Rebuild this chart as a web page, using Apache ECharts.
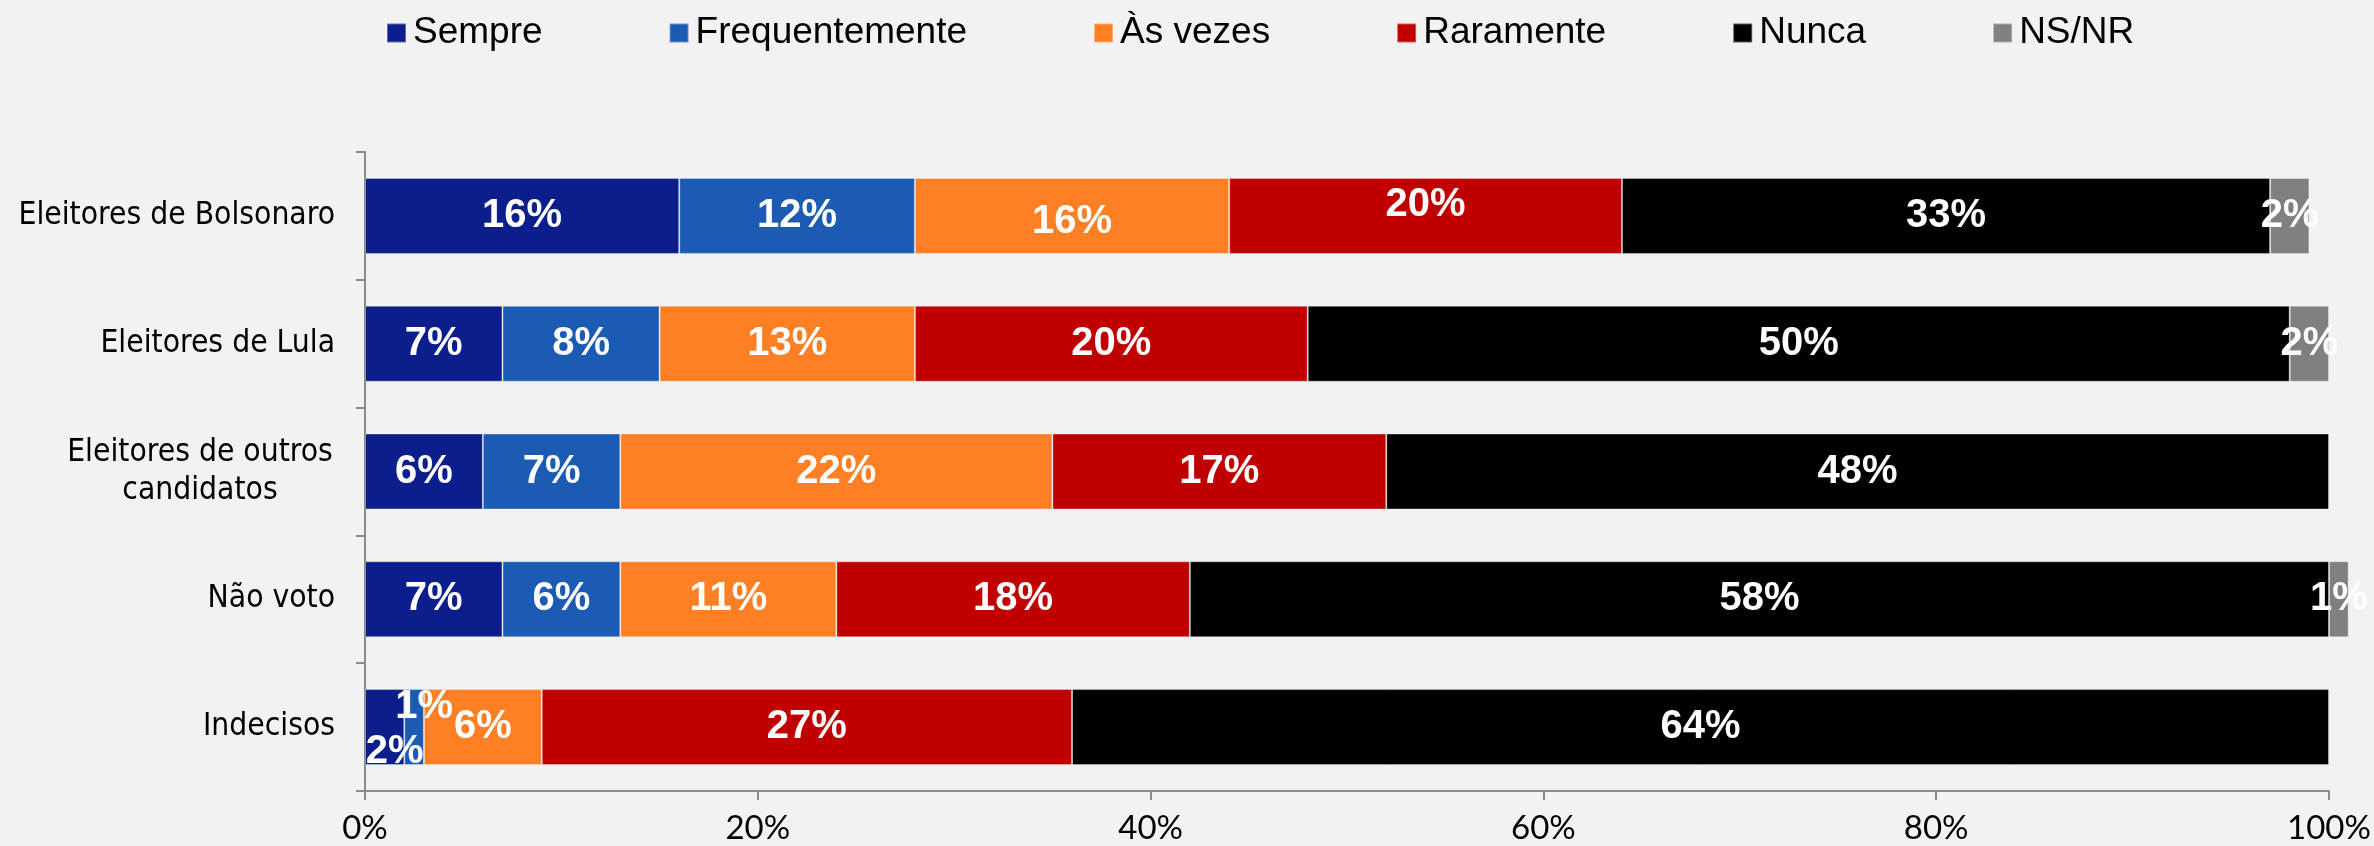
<!DOCTYPE html>
<html>
<head>
<meta charset="utf-8">
<script src="https://cdn.jsdelivr.net/npm/echarts@6/dist/echarts.min.js"></script>
<style>
  html, body { margin: 0; padding: 0; background: #f2f2f2; }
  #chart { width: 2374px; height: 846px; }
</style>
</head>
<body>
<div id="chart"></div>
<script>
// Voter groups, top to bottom
const categories = [
  'Eleitores de Bolsonaro',
  'Eleitores de Lula',
  'Eleitores de outros\ncandidatos',
  'Não voto',
  'Indecisos'
];

// Answer shares (%) per group
const sempre         = [16, 7, 6, 7, 2];
const frequentemente = [12, 8, 7, 6, 1];
const asVezes        = [16, 13, 22, 11, 6];
const raramente      = [20, 20, 17, 18, 27];
const nunca          = [33, 50, 48, 58, 64];
const nsnr           = [2, 2, null, 1, null];

const xTicks = [0, 20, 40, 60, 80, 100];

const seriesDefs = [
  { name: 'Sempre',         values: sempre,         color: '#0b1e8c' },
  { name: 'Frequentemente', values: frequentemente, color: '#1c5bb4' },
  { name: 'Às vezes',       values: asVezes,        color: '#fe7f24' },
  { name: 'Raramente',      values: raramente,      color: '#c00000' },
  { name: 'Nunca',          values: nunca,          color: '#000000' },
  { name: 'NS/NR',          values: nsnr,           color: '#808080' }
];

// Hand-placed label nudges [dx, dy] by series name and row index
const labelNudge = {
  'Às vezes':       { 0: [0, 6] },
  'Raramente':      { 0: [0, -11] },
  'Sempre':         { 4: [10, 25] },
  'Frequentemente': { 4: [10, -20] }
};

const series = seriesDefs.map(function (s) {
  return {
    name: s.name,
    type: 'bar',
    stack: 'total',
    barWidth: 76,
    clip: false,
    itemStyle: { color: s.color, borderColor: 'rgba(255,255,255,0.35)', borderWidth: 1 },
    label: {
      show: true,
      position: 'inside',
      color: '#ffffff',
      fontFamily: 'Liberation Sans, Arial, sans-serif',
      fontWeight: 'bold',
      fontSize: 40,
      formatter: function (p) { return p.value == null ? '' : p.value + '%'; }
    },
    data: s.values.map(function (v, i) {
      const nudge = labelNudge[s.name] && labelNudge[s.name][i];
      if (nudge) {
        return { value: v, label: { offset: nudge } };
      }
      return v;
    })
  };
});

const chart = echarts.init(document.getElementById('chart'));
chart.setOption({
  backgroundColor: '#f2f2f2',
  animation: false,
  legend: {
    left: 381,
    top: 9,
    itemWidth: 19,
    itemHeight: 19,
    itemGap: 126,
    icon: 'rect',
    data: seriesDefs.map(function (s) { return s.name; }),
    textStyle: {
      fontFamily: 'Liberation Sans, Arial, sans-serif',
      fontSize: 37,
      lineHeight: 38,
      color: '#000000',
      padding: [0, 0, 0, 2]
    }
  },
  grid: { left: 365, right: 45, top: 152, bottom: 55, containLabel: false },
  xAxis: {
    type: 'value',
    min: xTicks[0],
    max: xTicks[xTicks.length - 1],
    interval: xTicks[1] - xTicks[0],
    splitLine: { show: false },
    axisLine: { show: true, lineStyle: { color: '#8a8a8a', width: 2 } },
    axisTick: { show: true, length: 9, lineStyle: { color: '#8a8a8a', width: 2 } },
    axisLabel: {
      margin: 21,
      fontFamily: 'Lato, sans-serif',
      fontSize: 33,
      color: '#000000',
      formatter: '{value}%'
    }
  },
  yAxis: {
    type: 'category',
    inverse: true,
    data: categories,
    axisLine: { show: true, lineStyle: { color: '#8a8a8a', width: 2 } },
    axisTick: { show: true, length: 9, interval: 0, lineStyle: { color: '#8a8a8a', width: 2 } },
    axisLabel: {
      margin: 30,
      interval: 0,
      fontFamily: 'DejaVu Sans Condensed, DejaVu Sans, sans-serif',
      fontSize: 31.5,
      lineHeight: 38,
      color: '#000000',
      align: 'right',
      formatter: function (v) {
        if (v.indexOf('\n') < 0) return v;
        return v.split('\n').map(function (line) { return '{m|' + line + '}'; }).join('\n');
      },
      rich: {
        m: {
          width: 270,
          align: 'center',
          fontFamily: 'DejaVu Sans Condensed, DejaVu Sans, sans-serif',
          fontSize: 31.5,
          lineHeight: 38,
          color: '#000000'
        }
      }
    }
  },
  series: series
});
</script>
</body>
</html>
